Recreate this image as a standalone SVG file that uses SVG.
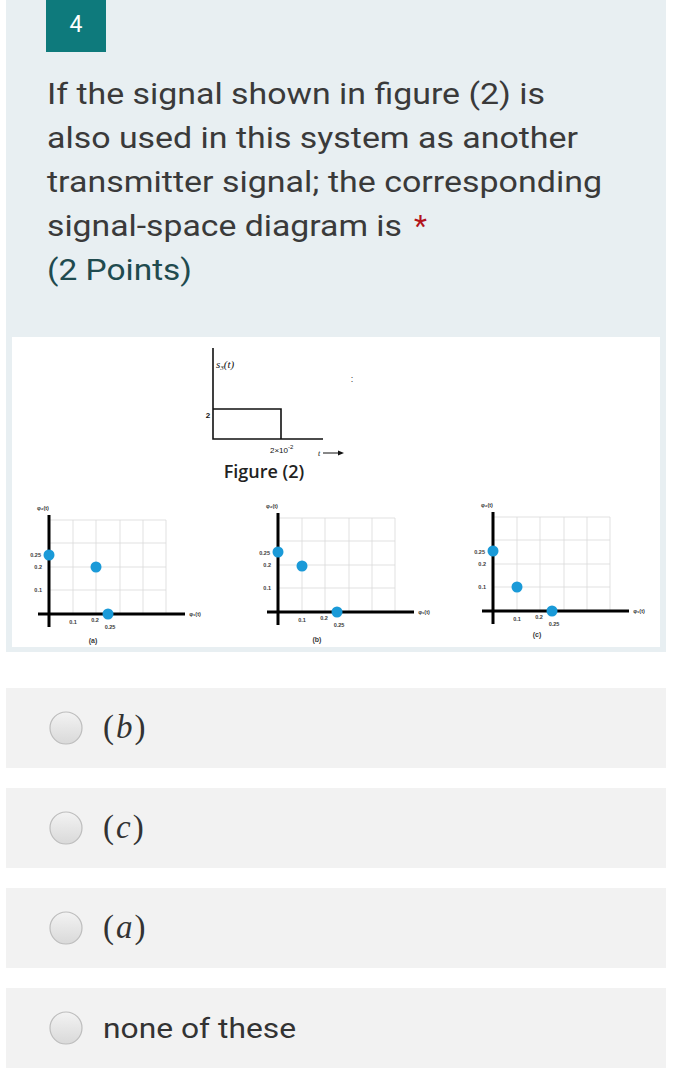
<svg xmlns="http://www.w3.org/2000/svg" width="673" height="1077" viewBox="0 0 673 1077">
<style>
.q{font-family:Roboto,"Liberation Sans",sans-serif;font-size:30px;fill:#3a3a3a}
.lbl{font-family:"Liberation Sans",Arial,sans-serif;font-size:5.5px;font-weight:bold;fill:#3a3a3a}
.cap{font-family:"Liberation Sans",Arial,sans-serif;font-size:7px;font-weight:bold;fill:#3a3a3a}
.grid{stroke:#d9d9d9;stroke-width:0.8;fill:none}
.axis{stroke:#000;stroke-width:3;fill:none}
.dot{fill:#1a9ad8}
.opt{fill:#f2f2f2}
.radio{fill:url(#rg);stroke:#bdbdbd;stroke-width:1.2}
.ser{font-family:"Liberation Serif","Times New Roman",serif;font-size:33px;fill:#333;letter-spacing:2px}
</style>
<defs>
<linearGradient id="rg" x1="0" y1="0" x2="0" y2="1">
<stop offset="0" stop-color="#f3f3f3"/>
<stop offset="1" stop-color="#d9d9d9"/>
</linearGradient>
<g id="plot">
<path class="grid" d="M24,-94V0M47,-94V0M71,-94V0M94,-94V0M117,-94V0M0,-94H117M0,-71H117M0,-47H117M0,-24H117"/>
<path class="axis" d="M0,-99V13M-11,0H136"/>
<text class="lbl" x="-8" y="-57" text-anchor="end">0.25</text>
<text class="lbl" x="-7" y="-45" text-anchor="end">0.2</text>
<text class="lbl" x="-7" y="-22" text-anchor="end">0.1</text>
<text class="lbl" x="24" y="10" text-anchor="middle">0.1</text>
<text class="lbl" x="46" y="8" text-anchor="middle">0.2</text>
<text class="lbl" x="61" y="15" text-anchor="middle">0.25</text>
<text class="lbl" x="-6" y="-104" text-anchor="middle" font-size="4.5">φ₂(t)</text>
<text class="lbl" x="146" y="2" text-anchor="middle" font-size="4.5">φ₁(t)</text>
</g>
</defs>
<rect width="673" height="1077" fill="#fff"/>
<rect x="6" y="0" width="660" height="652" fill="#e8eff2"/>
<g id="badge">
<rect x="46" y="0" width="60" height="52" fill="#0e7a7c"/>
<text x="76" y="32" text-anchor="middle" font-family="Roboto,'Liberation Sans',sans-serif" font-size="23" fill="#fff">4</text>
</g>
<g id="question">
<text class="q" x="47" y="104" textLength="498" lengthAdjust="spacingAndGlyphs">If the signal shown in figure (2) is</text>
<text class="q" x="47" y="148" textLength="531" lengthAdjust="spacingAndGlyphs">also used in this system as another</text>
<text class="q" x="47" y="192" textLength="555" lengthAdjust="spacingAndGlyphs">transmitter signal; the corresponding</text>
<text class="q" x="47" y="236" textLength="355" lengthAdjust="spacingAndGlyphs">signal-space diagram is</text>
<text class="q" x="414" y="236" style="fill:#b3141b">*</text>
<text class="q" x="47" y="280" textLength="145" lengthAdjust="spacingAndGlyphs" style="fill:#1f4b4f">(2 Points)</text>
</g>
<rect x="12" y="337" width="648" height="310" fill="#fff"/>
<g id="figure2">
<path d="M213,348V439H323M213,409H281V439" fill="none" stroke="#111" stroke-width="1.6"/>
<text x="216" y="368" font-family="'Liberation Serif',serif" font-style="italic" font-size="11" fill="#111">s<tspan font-size="7" dy="2">3</tspan><tspan dy="-2">(t)</tspan></text>
<text x="208" y="418" font-family="'Liberation Sans',sans-serif" font-size="8" font-weight="bold" fill="#111" text-anchor="middle">2</text>
<text x="270" y="453" font-family="'Liberation Sans',sans-serif" font-size="8" fill="#111">2×10<tspan font-size="6" dy="-4">-2</tspan></text>
<text x="318" y="456" font-family="'Liberation Serif',serif" font-style="italic" font-size="8" fill="#111">t</text>
<path d="M323,453H340" stroke="#111" stroke-width="1"/>
<path d="M344,453L338,450.5V455.5Z" fill="#111"/>
<text x="352" y="382" font-family="'Liberation Sans',sans-serif" font-size="9" fill="#333" text-anchor="middle">:</text>
<text x="264" y="478" font-family="'Open Sans','Liberation Sans',sans-serif" font-size="18" font-weight="600" fill="#222" text-anchor="middle">Figure (2)</text>
</g>
<g id="plot-a">
<use href="#plot" transform="translate(49,614)"/>
<circle class="dot" cx="49" cy="555" r="5.5"/>
<circle class="dot" cx="96" cy="567" r="5.5"/>
<circle class="dot" cx="108" cy="614" r="5.5"/>
<text class="cap" x="93" y="643" text-anchor="middle">(a)</text>
</g>
<g id="plot-b">
<use href="#plot" transform="translate(278,612)"/>
<circle class="dot" cx="278" cy="552" r="5.5"/>
<circle class="dot" cx="302" cy="566" r="5.5"/>
<circle class="dot" cx="337" cy="612" r="5.5"/>
<text class="cap" x="317" y="642" text-anchor="middle">(b)</text>
</g>
<g id="plot-c">
<use href="#plot" transform="translate(493,611)"/>
<circle class="dot" cx="493" cy="551" r="5.5"/>
<circle class="dot" cx="517" cy="587" r="5.5"/>
<circle class="dot" cx="552" cy="611" r="5.5"/>
<text class="cap" x="537" y="637" text-anchor="middle">(c)</text>
</g>
<g id="option-b">
<rect class="opt" x="6" y="688" width="660" height="80"/>
<circle class="radio" cx="66" cy="728" r="16"/>
<text class="ser" x="103" y="738">(<tspan font-style="italic">b</tspan>)</text>
</g>
<g id="option-c">
<rect class="opt" x="6" y="788" width="660" height="80"/>
<circle class="radio" cx="66" cy="828" r="16"/>
<text class="ser" x="103" y="838">(<tspan font-style="italic">c</tspan>)</text>
</g>
<g id="option-a">
<rect class="opt" x="6" y="888" width="660" height="80"/>
<circle class="radio" cx="66" cy="928" r="16"/>
<text class="ser" x="103" y="938">(<tspan font-style="italic">a</tspan>)</text>
</g>
<g id="option-none">
<rect class="opt" x="6" y="988" width="660" height="80"/>
<circle class="radio" cx="66" cy="1028" r="16"/>
<text x="103" y="1038" font-family="Roboto,'Liberation Sans',sans-serif" font-size="28" fill="#333" textLength="193" lengthAdjust="spacingAndGlyphs">none of these</text>
</g>
</svg>
